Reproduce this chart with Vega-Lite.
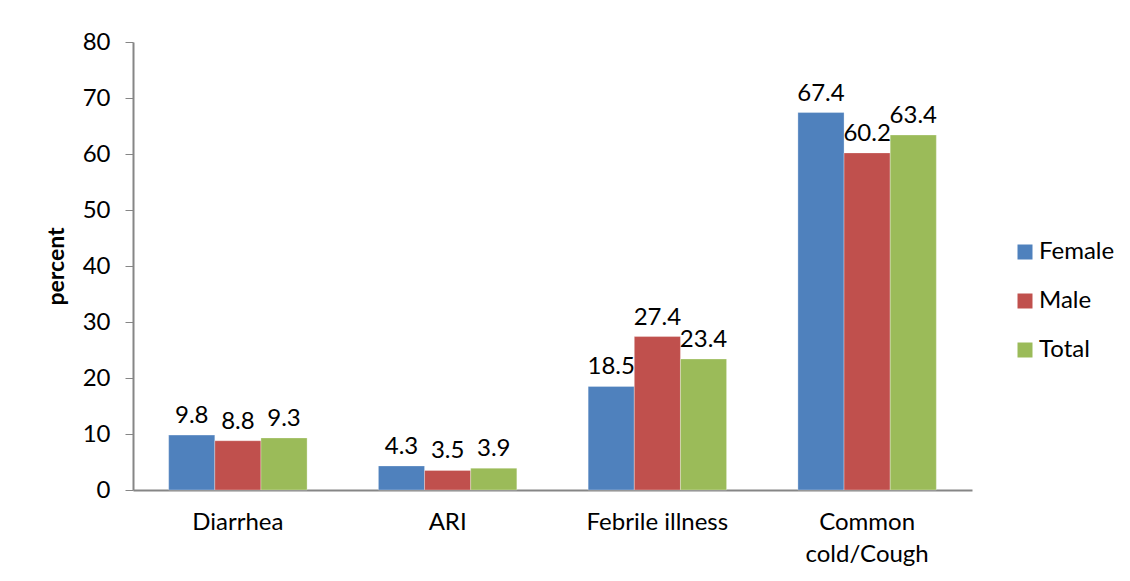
{
  "$schema": "https://vega.github.io/schema/vega-lite/v6.json",
  "width": 839,
  "height": 448,
  "autosize": {"type": "none"},
  "padding": {"left": 133, "top": 42, "right": 158, "bottom": 91},
  "background": "white",
  "config": {
    "view": {"stroke": null},
    "font": "Lato",
    "axis": {"labelFont": "Lato", "titleFont": "Lato", "labelColor": "black", "titleColor": "black", "domainColor": "#868686", "tickColor": "#868686", "grid": false},
    "legend": {"labelFont": "Lato"}
  },
  "data": {
    "values": [
      {"condition": "Diarrhea", "group": "Female", "percent": 9.8},
      {"condition": "Diarrhea", "group": "Male", "percent": 8.8},
      {"condition": "Diarrhea", "group": "Total", "percent": 9.3},
      {"condition": "ARI", "group": "Female", "percent": 4.3},
      {"condition": "ARI", "group": "Male", "percent": 3.5},
      {"condition": "ARI", "group": "Total", "percent": 3.9},
      {"condition": "Febrile illness", "group": "Female", "percent": 18.5},
      {"condition": "Febrile illness", "group": "Male", "percent": 27.4},
      {"condition": "Febrile illness", "group": "Total", "percent": 23.4},
      {"condition": "Common cold/Cough", "group": "Female", "percent": 67.4},
      {"condition": "Common cold/Cough", "group": "Male", "percent": 60.2},
      {"condition": "Common cold/Cough", "group": "Total", "percent": 63.4}
    ]
  },
  "encoding": {
    "x": {
      "field": "condition",
      "type": "nominal",
      "sort": ["Diarrhea", "ARI", "Febrile illness", "Common cold/Cough"],
      "scale": {"paddingInner": 0.34, "paddingOuter": 0.17},
      "axis": {
        "title": null,
        "labelAngle": 0,
        "labelFontSize": 24,
        "labelPadding": 20,
        "labelBaseline": "top",
        "labelLineHeight": 32,
        "ticks": false,
        "domainWidth": 2,
        "labelExpr": "datum.value == 'Common cold/Cough' ? ['Common', 'cold/Cough'] : datum.value"
      }
    },
    "xOffset": {"field": "group", "type": "nominal", "sort": ["Female", "Male", "Total"], "scale": {"paddingInner": 0, "paddingOuter": 0}},
    "y": {
      "field": "percent",
      "type": "quantitative",
      "scale": {"domain": [0, 80], "nice": false},
      "axis": {
        "title": "percent",
        "titleFontSize": 23,
        "titleFontWeight": "bold",
        "titlePadding": 14,
        "values": [0, 10, 20, 30, 40, 50, 60, 70, 80],
        "labelFontSize": 24,
        "labelPadding": 15,
        "tickSize": 8,
        "domainWidth": 2
      }
    }
  },
  "layer": [
    {
      "mark": {"type": "bar", "stroke": "white", "strokeWidth": 0.5, "strokeOpacity": 0.6},
      "encoding": {
        "color": {
          "field": "group",
          "type": "nominal",
          "sort": ["Female", "Male", "Total"],
          "scale": {"domain": ["Female", "Male", "Total"], "range": ["#4F81BD", "#C0504D", "#9BBB59"]},
          "legend": {
            "title": null,
            "orient": "none",
            "legendX": 880,
            "legendY": 198,
            "symbolType": "square",
            "symbolSize": 225,
            "symbolStrokeWidth": 0,
            "labelFontSize": 24,
            "labelColor": "black",
            "labelOffset": 2,
            "rowPadding": 25
          }
        }
      }
    },
    {
      "mark": {"type": "text", "baseline": "bottom", "dy": -7, "fontSize": 24, "color": "black"},
      "encoding": {
        "text": {"field": "percent", "type": "quantitative", "format": ".1f"}
      }
    }
  ]
}
